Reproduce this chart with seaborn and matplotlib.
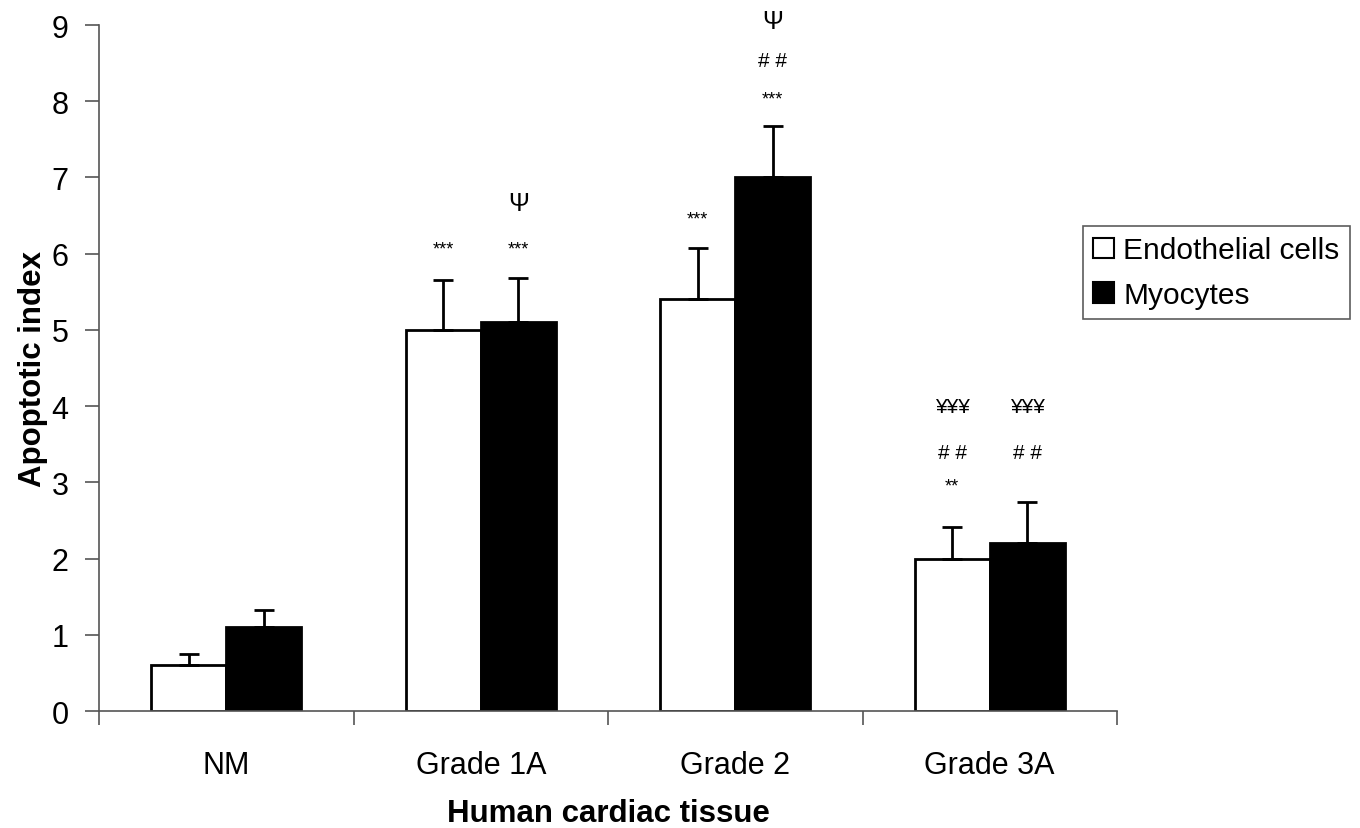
import matplotlib
matplotlib.use("Agg")
import matplotlib.pyplot as plt
import seaborn as sns
import pandas as pd
import numpy as np
from matplotlib.patches import Patch
from matplotlib.ticker import FixedLocator

categories = ["NM", "Grade 1A", "Grade 2", "Grade 3A"]
series = ["Endothelial cells", "Myocytes"]
endo_vals = [0.6, 5.0, 5.4, 2.0]
myo_vals = [1.1, 5.1, 7.0, 2.2]
endo_err = [0.15, 0.65, 0.68, 0.42]
myo_err = [0.22, 0.58, 0.67, 0.54]
yticks = list(range(0, 10))

# annotations: (category index, series index, y value, text, size)
annotations = [
    (1, 0, 6.06, "***", 13),
    (1, 1, 6.06, "***", 13),
    (1, 1, 6.66, "Ψ", 18),
    (2, 0, 6.46, "***", 13),
    (2, 1, 8.03, "***", 13),
    (2, 1, 8.53, "# #", 15),
    (2, 1, 9.05, "Ψ", 18),
    (3, 0, 2.95, "**", 13),
    (3, 0, 3.39, "# #", 15),
    (3, 0, 3.99, "¥¥¥", 15),
    (3, 1, 3.39, "# #", 15),
    (3, 1, 3.99, "¥¥¥", 15),
]

df = pd.DataFrame({
    "cat": categories * 2,
    "series": [series[0]] * 4 + [series[1]] * 4,
    "val": endo_vals + myo_vals,
})

sns.set_style("white")
plt.rcParams["font.family"] = ["Liberation Sans", "DejaVu Sans"]
plt.rcParams["text.color"] = "black"
plt.rcParams["axes.labelcolor"] = "black"

fig = plt.figure(figsize=(13.6, 8.29), dpi=100)
ax = fig.add_axes([99 / 1360, 1 - 712 / 829, (1117 - 99) / 1360, (712 - 26) / 829])

sns.barplot(data=df, x="cat", y="val", hue="series", order=categories,
            hue_order=series, palette=["white", "black"], width=0.59,
            errorbar=None, edgecolor="black", linewidth=2, ax=ax, legend=False)

errs = [endo_err, myo_err]
vals = [endo_vals, myo_vals]
bar_containers = list(ax.containers)
centers = {}
for si, cont in enumerate(bar_containers):
    for ci, patch in enumerate(cont.patches):
        xc = patch.get_x() + patch.get_width() / 2
        centers[(ci, si)] = xc
for (ci, si), xc in centers.items():
    ax.errorbar(xc, vals[si][ci], yerr=[[0], [errs[si][ci]]], fmt="none",
                ecolor="black", elinewidth=2, capsize=7, capthick=2, zorder=1)

for ci, si, y, txt, size in annotations:
    ax.text(centers[(ci, si)], y, txt, ha="center", va="center", fontsize=size,
            color="black", clip_on=False)

ax.set_ylim(0, 9)
ax.set_xlim(-0.5, 3.5)
ax.set_yticks(yticks)
ax.tick_params(axis="y", labelsize=22, length=10, width=1.2, color="#555555",
               labelcolor="black", direction="out", left=True, pad=12)
ax.tick_params(axis="x", which="major", labelsize=22, length=0, pad=28,
               labelcolor="black")
ax.xaxis.set_minor_locator(FixedLocator([-0.5, 0.5, 1.5, 2.5, 3.5]))
ax.tick_params(axis="x", which="minor", length=10, width=1.2, color="#555555",
               direction="out", bottom=True)

for s in ["top", "right"]:
    ax.spines[s].set_visible(False)
for s in ["left", "bottom"]:
    ax.spines[s].set_color("#555555")
    ax.spines[s].set_linewidth(1.2)

ax.set_xlabel("Human cardiac tissue", fontsize=22.5, fontweight="bold")
ax.set_ylabel("Apoptotic index", fontsize=22.5, fontweight="bold")
ax.xaxis.set_label_coords(0.5, (712 - 814) / 686, transform=ax.transAxes)
ax.yaxis.set_label_coords((33 - 99) / 1018, 0.5, transform=ax.transAxes)
ax.xaxis.label.set_va("center")
ax.yaxis.label.set_va("center")

handles = [Patch(facecolor="white", edgecolor="black", linewidth=1.5),
           Patch(facecolor="black", edgecolor="black", linewidth=1.5)]
leg = fig.legend(handles, series, loc="upper left",
                 bbox_to_anchor=(1083 / 1360, 1 - 227 / 829), fontsize=21.5,
                 frameon=True, fancybox=False, edgecolor="#333333",
                 handlelength=0.7, handleheight=0.7, handletextpad=0.3,
                 borderpad=0.35, labelspacing=0.55, borderaxespad=0)
leg.get_frame().set_linewidth(1.2)

fig.savefig("out.png", dpi=100, facecolor="white")
